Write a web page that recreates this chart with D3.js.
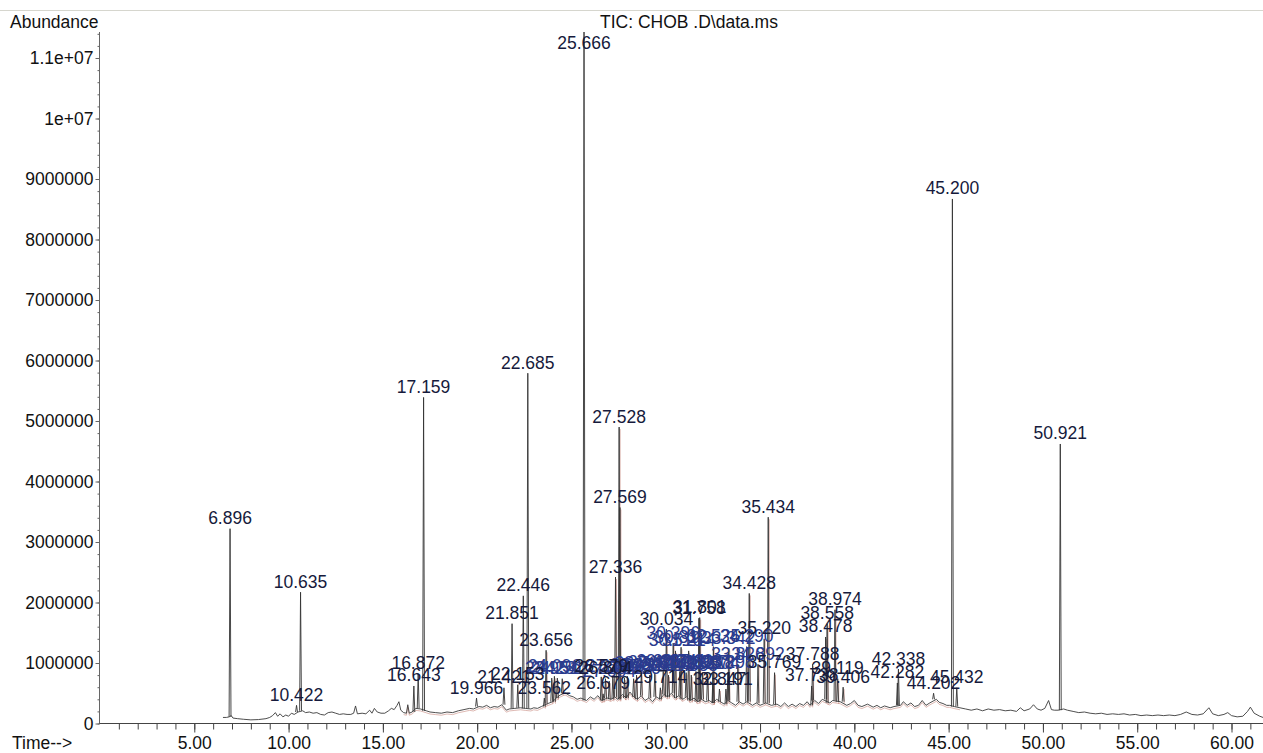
<!DOCTYPE html>
<html>
<head>
<meta charset="utf-8">
<script src="https://cdn.jsdelivr.net/npm/d3@7"></script>
<style>
  html, body { margin: 0; padding: 0; background: #ffffff; }
  svg { display: block; font-family: "Liberation Sans", Arial, sans-serif; }
</style>
</head>
<body>
<svg id="chart" width="1263" height="753"></svg>
<script>
// ---- data -------------------------------------------------------------
const plotTitle = "TIC: CHOB .D\\data.ms";
const yAxisTitle = "Abundance";
const xAxisTitle = "Time-->";

const xTicks = [5, 10, 15, 20, 25, 30, 35, 40, 45, 50, 55, 60];
const xTickLabels = ["5.00", "10.00", "15.00", "20.00", "25.00", "30.00",
                     "35.00", "40.00", "45.00", "50.00", "55.00", "60.00"];

// abundance in millions of counts
const yTicks = [0, 1, 2, 3, 4, 5, 6, 7, 8, 9, 10, 11];
const yTickLabels = ["0", "1000000", "2000000", "3000000", "4000000", "5000000",
                     "6000000", "7000000", "8000000", "9000000", "1e+07", "1.1e+07"];

// background trace between the integrated peaks: [minutes, abundance (millions)]
const baseline = [
  [6.52,0.10],[6.70,0.10],[6.85,0.11],[6.96,0.13],[7.05,0.09],[7.30,0.08],[7.60,0.07],
  [8.00,0.06],[8.40,0.065],[8.80,0.08],[9.00,0.10],[9.15,0.13],[9.30,0.18],[9.42,0.12],
  [9.55,0.16],[9.70,0.11],[9.85,0.14],[10.00,0.12],[10.15,0.17],[10.30,0.15],[10.50,0.19],
  [10.75,0.21],[10.90,0.18],[11.10,0.19],[11.30,0.17],[11.50,0.18],[11.70,0.15],[11.90,0.14],
  [12.10,0.18],[12.30,0.19],[12.50,0.17],[12.70,0.15],[12.90,0.16],[13.10,0.15],[13.30,0.15],
  [13.45,0.17],[13.55,0.29],[13.65,0.16],[13.90,0.17],[14.10,0.16],[14.30,0.22],[14.42,0.17],
  [14.55,0.25],[14.70,0.19],[14.90,0.17],[15.10,0.17],[15.30,0.21],[15.45,0.25],[15.60,0.23],
  [15.75,0.30],[15.85,0.36],[15.95,0.22],[16.10,0.18],[16.25,0.17],[16.32,0.31],[16.40,0.17],
  [16.55,0.19],[16.75,0.25],[17.00,0.24],[17.30,0.21],[17.50,0.19],[17.80,0.18],[18.10,0.17],
  [18.40,0.19],[18.70,0.18],[19.00,0.21],[19.30,0.23],[19.60,0.25],[19.80,0.24],[20.10,0.28],
  [20.30,0.27],[20.50,0.30],[20.70,0.26],[20.90,0.28],[21.10,0.27],[21.30,0.31],[21.55,0.22],
  [21.70,0.24],[22.00,0.25],[22.30,0.26],[22.55,0.25],[22.85,0.24],[23.00,0.26],[23.20,0.25],
  [23.40,0.28],[23.75,0.33],[24.00,0.36],[24.20,0.42],[24.40,0.47],[24.60,0.50],[24.70,0.50],
  [24.90,0.46],[25.10,0.44],[25.30,0.40],[25.50,0.42],[25.80,0.38],[26.00,0.44],[26.20,0.40],
  [26.40,0.46],[26.60,0.38],[26.90,0.42],[27.10,0.40],[27.30,0.44],[27.45,0.40],[27.70,0.48],
  [27.90,0.42],[28.10,0.52],[28.30,0.44],[28.50,0.40],[28.70,0.46],[28.90,0.38],[29.10,0.42],
  [29.30,0.36],[29.50,0.44],[29.70,0.40],[29.90,0.48],[30.10,0.44],[30.30,0.50],[30.50,0.42],
  [30.70,0.46],[30.90,0.40],[31.10,0.44],[31.30,0.38],[31.50,0.42],[31.70,0.36],[31.90,0.40],
  [32.10,0.36],[32.30,0.38],[32.50,0.34],[32.70,0.40],[32.90,0.36],[33.10,0.32],[33.30,0.38],
  [33.50,0.34],[33.70,0.30],[33.90,0.36],[34.10,0.32],[34.30,0.36],[34.60,0.30],[34.80,0.34],
  [35.00,0.30],[35.30,0.34],[35.60,0.30],[35.90,0.32],[36.10,0.28],[36.30,0.34],[36.50,0.28],
  [36.70,0.32],[36.90,0.28],[37.10,0.33],[37.30,0.30],[37.50,0.36],[37.65,0.30],[37.90,0.38],
  [38.10,0.33],[38.30,0.40],[38.70,0.34],[38.85,0.38],[39.25,0.36],[39.60,0.30],[39.80,0.33],
  [40.00,0.38],[40.20,0.30],[40.40,0.28],[40.70,0.32],[41.00,0.27],[41.20,0.30],[41.40,0.26],
  [41.60,0.29],[41.90,0.26],[42.10,0.28],[42.45,0.30],[42.60,0.36],[42.80,0.30],[43.00,0.34],
  [43.20,0.28],[43.40,0.30],[43.60,0.38],[43.80,0.30],[44.00,0.34],[44.35,0.40],[44.50,0.35],
  [44.70,0.33],[44.90,0.30],[45.05,0.30],[45.30,0.28],[45.60,0.26],[45.90,0.24],[46.20,0.22],
  [46.50,0.24],[46.80,0.21],[47.10,0.24],[47.40,0.22],[47.70,0.23],[48.00,0.21],[48.30,0.22],
  [48.60,0.20],[48.80,0.26],[49.00,0.21],[49.30,0.24],[49.50,0.31],[49.70,0.24],[49.90,0.22],
  [50.10,0.25],[50.30,0.38],[50.45,0.23],[50.60,0.22],[50.80,0.22],[51.10,0.24],[51.30,0.22],
  [51.60,0.20],[51.90,0.18],[52.20,0.19],[52.50,0.17],[52.80,0.16],[53.10,0.17],[53.40,0.15],
  [53.70,0.16],[54.00,0.15],[54.30,0.16],[54.60,0.14],[54.90,0.15],[55.20,0.13],[55.50,0.14],
  [55.80,0.13],[56.10,0.14],[56.40,0.13],[56.70,0.14],[57.00,0.13],[57.30,0.15],[57.60,0.19],
  [57.90,0.15],[58.20,0.14],[58.50,0.16],[58.80,0.26],[59.00,0.16],[59.30,0.13],[59.60,0.15],
  [59.80,0.18],[60.00,0.13],[60.30,0.11],[60.60,0.12],[60.85,0.20],[61.00,0.27],[61.20,0.17],
  [61.50,0.12],[61.67,0.10]
];

// integrated peaks, retention time (min) and apex abundance (millions)
const peakTimes = [
  6.896, 10.422, 10.635, 16.643, 16.872, 17.159, 19.966, 21.421, 21.851, 22.153,
  22.446, 22.685, 23.562, 23.656, 25.666, 26.579, 26.679, 26.804, 27.336, 27.528,
  27.569, 29.714, 30.034, 31.758, 31.801, 32.847, 33.191, 34.428, 35.220, 35.434,
  35.769, 37.738, 37.788, 38.478, 38.558, 38.974, 39.119, 39.406, 42.282, 42.338,
  44.202, 45.200, 45.432, 50.921
];
const peakHeights = [
  3.22, 0.30, 2.17, 0.62, 0.82, 5.39, 0.42, 0.59, 1.65, 0.64,
  2.11, 5.79, 0.42, 1.21, 11.43, 0.77, 0.49, 0.74, 2.42, 4.90,
  3.57, 0.59, 1.56, 1.74, 1.75, 0.57, 0.57, 2.15, 1.40, 3.41,
  0.84, 0.62, 0.98, 1.43, 1.65, 1.88, 0.74, 0.60, 0.67, 0.90,
  0.50, 8.67, 0.59, 4.62
];

// densely packed minor peaks in the middle of the run
const clusterTimes = [
  23.954, 24.096, 24.251, 24.512, 27.004, 27.195, 27.812, 27.965, 28.296, 28.452,
  28.706, 29.153, 29.421, 29.867, 30.148, 30.396, 30.516, 30.741, 30.812, 31.082,
  31.214, 31.355, 31.603, 31.947, 32.218, 32.504, 32.525, 33.298, 33.342, 33.826,
  34.290, 34.892
];
const clusterHeights = [
  0.75, 0.78, 0.75, 0.74, 0.70, 0.77, 0.75, 0.78, 0.74, 0.80,
  0.83, 0.80, 0.84, 0.86, 0.80, 1.33, 1.20, 0.86, 1.26, 0.84,
  1.20, 0.80, 0.86, 0.84, 0.82, 0.82, 1.27, 0.84, 1.24, 0.98,
  1.27, 0.98
];

// ---- layout -----------------------------------------------------------
const W = 1263, H = 753;
const svg = d3.select("#chart");

const x = d3.scaleLinear().domain([0, 61.67]).range([100, 1263]);
const y = d3.scaleLinear().domain([0, 11.43]).range([723.5, 32]);

const labelFont = "17.5px";
const peakHalfWidth = 0.05;

// thin rule across the top of the page
svg.append("line")
  .attr("x1", 0).attr("x2", W).attr("y1", 10.5).attr("y2", 10.5)
  .attr("stroke", "#d6d6ce").attr("stroke-width", 1);

svg.append("text")
  .attr("x", 10).attr("y", 28)
  .attr("font-size", labelFont).attr("fill", "#111")
  .text(yAxisTitle);

svg.append("text")
  .attr("x", 600).attr("y", 28)
  .attr("font-size", labelFont).attr("fill", "#111")
  .text(plotTitle);

// ---- axes -------------------------------------------------------------
const axisColor = "#444";

// x: minor ticks each minute, long ticks with labels every five
const xMinor = svg.append("g")
  .attr("transform", `translate(0,${y(0)})`)
  .call(d3.axisBottom(x).tickValues(d3.range(1, 62)).tickSize(6).tickFormat(""));
xMinor.select(".domain").remove();

const xMajor = svg.append("g")
  .attr("transform", `translate(0,${y(0)})`)
  .call(d3.axisBottom(x).tickValues(xTicks).tickSize(9)
        .tickFormat((d, i) => xTickLabels[i]).tickPadding(4));
xMajor.select(".domain").remove();
xMajor.selectAll("text").attr("font-size", labelFont).attr("fill", "#111")
  .attr("font-family", null);

[xMinor, xMajor].forEach(g => g.selectAll("line").attr("stroke", axisColor));

svg.append("line")
  .attr("x1", x(0) - 1).attr("x2", W).attr("y1", y(0)).attr("y2", y(0))
  .attr("stroke", axisColor).attr("stroke-width", 1);

svg.append("text")
  .attr("x", 12).attr("y", 749)
  .attr("font-size", labelFont).attr("fill", "#111")
  .text(xAxisTitle);

// y: minor ticks every 200000, labelled ticks every million
const yMinor = svg.append("g")
  .attr("transform", `translate(${x(0) - 0.5},0)`)
  .call(d3.axisLeft(y).tickValues(d3.range(0, 11.41, 0.2)).tickSize(2).tickFormat(""));
yMinor.select(".domain").remove();

const yMajor = svg.append("g")
  .attr("transform", `translate(${x(0) - 0.5},0)`)
  .call(d3.axisLeft(y).tickValues(yTicks).tickSize(4)
        .tickFormat((d, i) => yTickLabels[i]).tickPadding(2));
yMajor.select(".domain").remove();
yMajor.selectAll("text").attr("font-size", labelFont).attr("fill", "#111")
  .attr("font-family", null);

[yMinor, yMajor].forEach(g => g.selectAll("line").attr("stroke", "#666"));

svg.append("line")
  .attr("x1", x(0) - 0.5).attr("x2", x(0) - 0.5)
  .attr("y1", y.range()[1]).attr("y2", y(0))
  .attr("stroke", "#666").attr("stroke-width", 1);

// ---- chromatogram -----------------------------------------------------
const line = d3.line().x(d => x(d[0])).y(d => y(d[1]));
const bisect = d3.bisector(d => d[0]).center;
const baseAt = t => baseline[bisect(baseline, t)][1];

const plot = svg.append("g");

const allPeaks = peakTimes.map((t, i) => ({ t, h: peakHeights[i], cluster: false }))
  .concat(clusterTimes.map((t, i) => ({ t, h: clusterHeights[i], cluster: true })));

// integration marks (red) under the mid-run peaks
plot.append("path")
  .datum(baseline.filter(d => d[0] >= 16 && d[0] <= 45.6))
  .attr("d", line)
  .attr("transform", "translate(0,2)")
  .attr("fill", "none")
  .attr("stroke", "#c88a80").attr("stroke-width", 1).attr("opacity", 0.6);

plot.selectAll("line.mark")
  .data(allPeaks.filter(p => p.t >= 23.5 && p.t <= 40 && p.h < 6))
  .join("line")
  .attr("class", "mark")
  .attr("x1", p => x(p.t) + 1).attr("x2", p => x(p.t) + 1)
  .attr("y1", p => y(baseAt(p.t)) + 2).attr("y2", p => y(p.h) + 2)
  .attr("stroke", "#b0584c").attr("stroke-width", 0.8).attr("opacity", 0.55);

// background trace
plot.append("path")
  .datum(baseline)
  .attr("d", line)
  .attr("fill", "none")
  .attr("stroke", "#3a3a3a").attr("stroke-width", 0.9);

// each peak as a narrow spike rising from the trace
plot.selectAll("path.peak")
  .data(allPeaks)
  .join("path")
  .attr("class", "peak")
  .attr("d", p => {
    const b = baseAt(p.t);
    return line([[p.t - peakHalfWidth, b], [p.t, p.h], [p.t + peakHalfWidth, b]]);
  })
  .attr("fill", "none")
  .attr("stroke", "#333").attr("stroke-width", 0.9);

// retention-time labels above each apex
const labels = svg.append("g")
  .attr("font-size", labelFont)
  .attr("text-anchor", "middle");

labels.selectAll("text.cl")
  .data(allPeaks.filter(p => p.cluster))
  .join("text")
  .attr("class", "cl")
  .attr("x", p => x(p.t))
  .attr("y", p => Math.max(y(p.h) - 4.5, 49))
  .attr("fill", "#2a3b8e")
  .text(p => p.t.toFixed(3));

labels.selectAll("text.pk")
  .data(allPeaks.filter(p => !p.cluster))
  .join("text")
  .attr("class", "pk")
  .attr("x", p => x(p.t))
  .attr("y", p => Math.max(y(p.h) - 4.5, 49))
  .attr("fill", "#161a3c")
  .text(p => p.t.toFixed(3));
</script>
</body>
</html>
